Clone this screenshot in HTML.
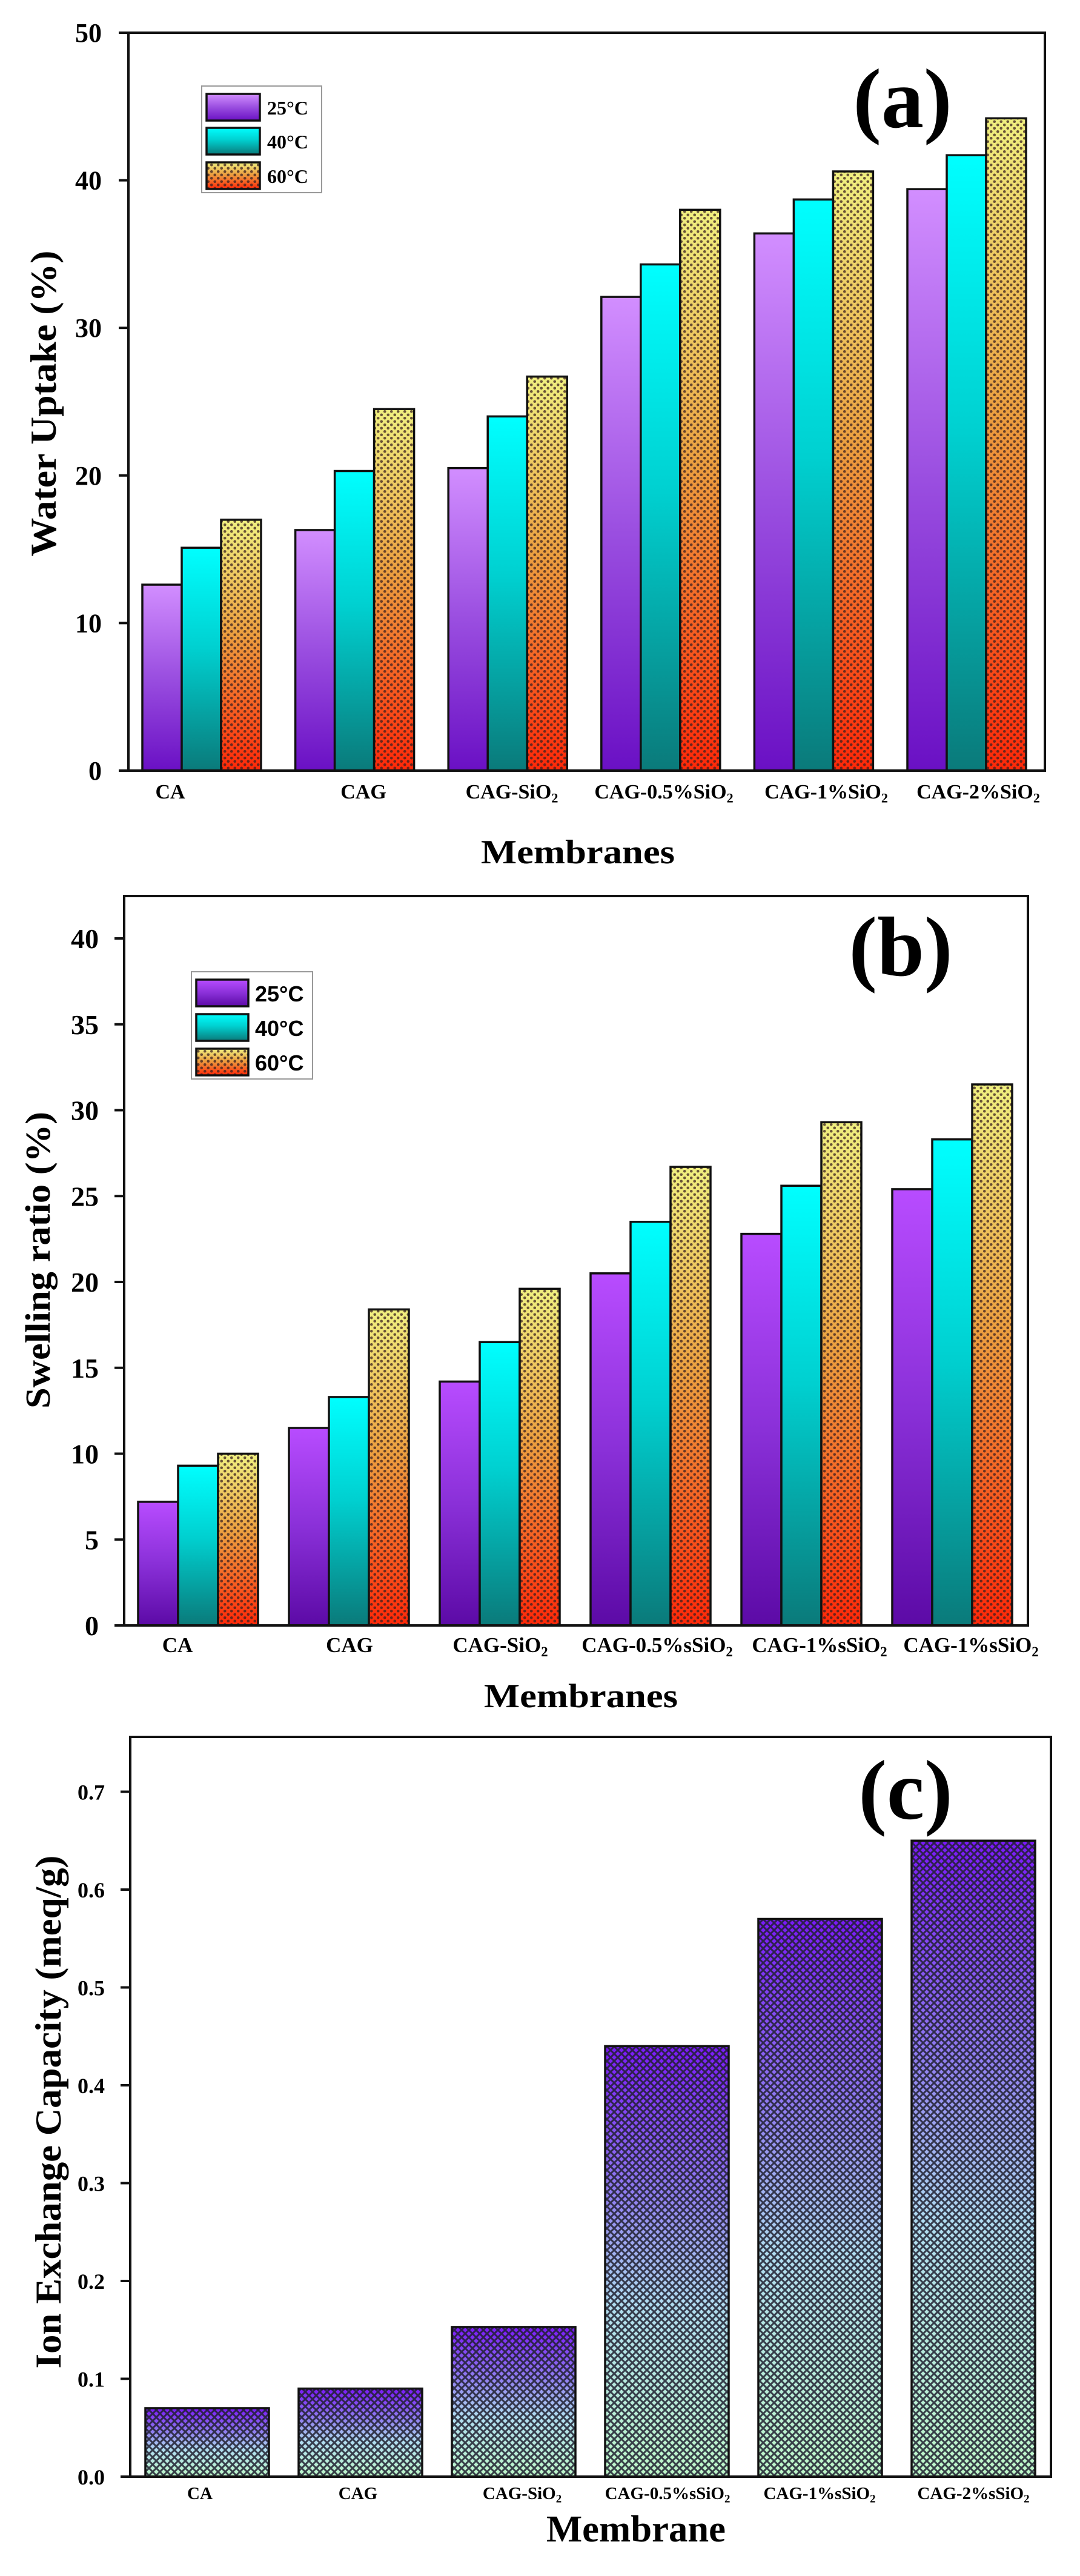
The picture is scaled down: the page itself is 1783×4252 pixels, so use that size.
<!DOCTYPE html>
<html><head><meta charset="utf-8"><style>html,body{margin:0;padding:0;background:#fff}svg{display:block}</style></head>
<body>
<svg id="s" xmlns="http://www.w3.org/2000/svg" width="1783" height="4252" viewBox="0 0 1783 4252" font-family="Liberation Serif, serif" font-weight="bold">
<defs>
<linearGradient id="pa" x1="0" y1="0" x2="0" y2="1"><stop offset="0" stop-color="#d28eff"/><stop offset="0.5" stop-color="#9a4ee0"/><stop offset="1" stop-color="#6a10c4"/></linearGradient>
<linearGradient id="pb" x1="0" y1="0" x2="0" y2="1"><stop offset="0" stop-color="#b84cff"/><stop offset="0.5" stop-color="#8a30d8"/><stop offset="1" stop-color="#5c0aa6"/></linearGradient>
<linearGradient id="cy" x1="0" y1="0" x2="0" y2="1"><stop offset="0" stop-color="#00ffff"/><stop offset="0.45" stop-color="#00d0d0"/><stop offset="1" stop-color="#0a7a7a"/></linearGradient>
<linearGradient id="yl" x1="0" y1="0" x2="0" y2="1"><stop offset="0" stop-color="#f0f080"/><stop offset="0.45" stop-color="#eca040"/><stop offset="1" stop-color="#ff2808"/></linearGradient>
<linearGradient id="ic" x1="0" y1="0" x2="0" y2="1"><stop offset="0" stop-color="#7a18f8"/><stop offset="0.35" stop-color="#9080f0"/><stop offset="0.6" stop-color="#b0dcf0"/><stop offset="1" stop-color="#bef8c8"/></linearGradient>
<pattern id="dots" width="11" height="11" patternUnits="userSpaceOnUse"><circle cx="2.75" cy="2.75" r="2.3" fill="#3a2020" fill-opacity="0.75"/><circle cx="8.25" cy="8.25" r="2.3" fill="#3a2020" fill-opacity="0.75"/></pattern>
<pattern id="hatch" width="12" height="12" patternUnits="userSpaceOnUse"><path d="M0,0L12,12M12,0L0,12" stroke="#202030" stroke-opacity="0.85" stroke-width="3"/></pattern>
</defs>
<g id="g"></g>
</svg>
<script>
var g=document.getElementById('g'),h='';
function T(x,y,s,sz,anchor,extra){h+='<text x="'+x+'" y="'+y+'" font-size="'+sz+'" text-anchor="'+(anchor||'middle')+'" '+(extra||'')+'>'+s+'</text>';}
function sub(base){return base.replace('SiO2','SiO<tspan font-size="0.65em" dy="0.3em">2</tspan>');}
function frame(l,r,t,b){h+='<rect x="'+l+'" y="'+t+'" width="'+(r-l)+'" height="'+(b-t)+'" fill="none" stroke="#111" stroke-width="4"/>';}
function tick(l,y){h+='<line x1="'+(l-16)+'" y1="'+y+'" x2="'+l+'" y2="'+y+'" stroke="#111" stroke-width="4"/>';}
function bar(x,w,top,base,fill,pat){h+='<rect x="'+x+'" y="'+top+'" width="'+w+'" height="'+(base-top)+'" fill="url(#'+fill+')"/>';if(pat)h+='<rect x="'+x+'" y="'+top+'" width="'+w+'" height="'+(base-top)+'" fill="url(#'+pat+')"/>';h+='<rect x="'+x+'" y="'+top+'" width="'+w+'" height="'+(base-top)+'" fill="none" stroke="#111" stroke-width="3.5"/>';}
var LA='lengthAdjust="spacingAndGlyphs"';
// Panel a
(function(){var L=212,R=1725,B=1272,Tp=54,u=(B-Tp)/50;
var v=[[12.6,15.1,17],[16.3,20.3,24.5],[20.5,24,26.7],[32.1,34.3,38],[36.4,38.7,40.6],[39.4,41.7,44.2]];
for(var i=0;i<6;i++){var x0=235+i*252.6;bar(x0,65,B-v[i][0]*u,B,'pa');bar(x0+65,65,B-v[i][1]*u,B,'cy');bar(x0+130,66,B-v[i][2]*u,B,'yl','dots');}
frame(L,R,Tp,B);for(var k=0;k<=5;k++){var y=B-k*10*u;tick(L,y);T(168,y+15,k*10,44,'end');}
var labs=['CA','CAG','CAG-SiO2','CAG-0.5%SiO2','CAG-1%SiO2','CAG-2%SiO2'],lx=[281,600,845,1096,1364,1615];
for(i=0;i<6;i++)T(lx[i],1318,sub(labs[i]),34);
T(954,1425,'Membranes',56,'middle','textLength="320" '+LA);
h+='<text transform="translate(92,666) rotate(-90)" font-size="60" text-anchor="middle" textLength="505" '+LA+'>Water Uptake (%)</text>';
T(1490,210,'(a)',140);
h+='<rect x="333" y="142" width="198" height="176" fill="#fff" stroke="#999" stroke-width="2"/>';
var sw=[['pa',155,'25°C'],['cy',211,'40°C'],['yl',268,'60°C']];
sw.forEach(function(s){bar(341,88,s[1],s[1]+44,s[0],s[0]=='yl'?'dots':null);T(441,s[1]+34,s[2],32,'start');});
})();
// Panel b
(function(){var L=205,R=1697,B=2683,Tp=1479,u=(B-1549)/40;
var v=[[7.2,9.3,10],[11.5,13.3,18.4],[14.2,16.5,19.6],[20.5,23.5,26.7],[22.8,25.6,29.3],[25.4,28.3,31.5]];
for(var i=0;i<6;i++){var x0=228+i*249;bar(x0,66,B-v[i][0]*u,B,'pb');bar(x0+66,66,B-v[i][1]*u,B,'cy');bar(x0+132,66,B-v[i][2]*u,B,'yl','dots');}
frame(L,R,Tp,B);for(var k=0;k<=8;k++){var y=B-k*5*u;tick(L,y);T(163,y+16,k*5,46,'end');}
var labs=['CA','CAG','CAG-SiO2','CAG-0.5%sSiO2','CAG-1%sSiO2','CAG-1%sSiO2'],lx=[293,577,826,1085,1353,1603];
for(i=0;i<6;i++)T(lx[i],2727,sub(labs[i]),35);
T(959,2818,'Membranes',56,'middle','textLength="320" '+LA);
h+='<text transform="translate(82,2080) rotate(-90)" font-size="58" text-anchor="middle" textLength="490" '+LA+'>Swelling ratio (%)</text>';
T(1487,1610,'(b)',140);
h+='<rect x="316" y="1604" width="200" height="177" fill="#fff" stroke="#999" stroke-width="2"/>';
var sw=[['pb',1617,'25°C'],['cy',1674,'40°C'],['yl',1731,'60°C']];
sw.forEach(function(s){bar(324,86,s[1],s[1]+44,s[0],s[0]=='yl'?'dots':null);h+='<text x="421" y="'+(s[1]+36)+'" font-size="36" font-family="Liberation Sans, sans-serif" font-weight="bold">'+s[2]+'</text>';});
})();
// Panel c
(function(){var L=215,R=1735,B=4088,Tp=2867,u=161.5;
var v=[0.07,0.09,0.153,0.44,0.57,0.65];
for(var i=0;i<6;i++){var x0=240+i*253;bar(x0,204,B-v[i]*10*u,B,'ic','hatch');}
frame(L,R,Tp,B);for(var k=0;k<=7;k++){var y=B-k*u;tick(L,y);T(173,y+13,(k/10).toFixed(1),36,'end');}
var labs=['CA','CAG','CAG-SiO2','CAG-0.5%sSiO2','CAG-1%sSiO2','CAG-2%sSiO2'],lx=[330,591,862,1102,1353,1607];
for(i=0;i<6;i++)T(lx[i],4125,sub(labs[i]),29);
T(1050,4195,'Membrane',62,'middle','textLength="296" '+LA);
h+='<text transform="translate(100,3486) rotate(-90)" font-size="60" text-anchor="middle" textLength="847" '+LA+'>Ion Exchange Capacity (meq/g)</text>';
T(1495,3002,'(c)',140);
})();
g.innerHTML=h;
</script>
</body></html>
